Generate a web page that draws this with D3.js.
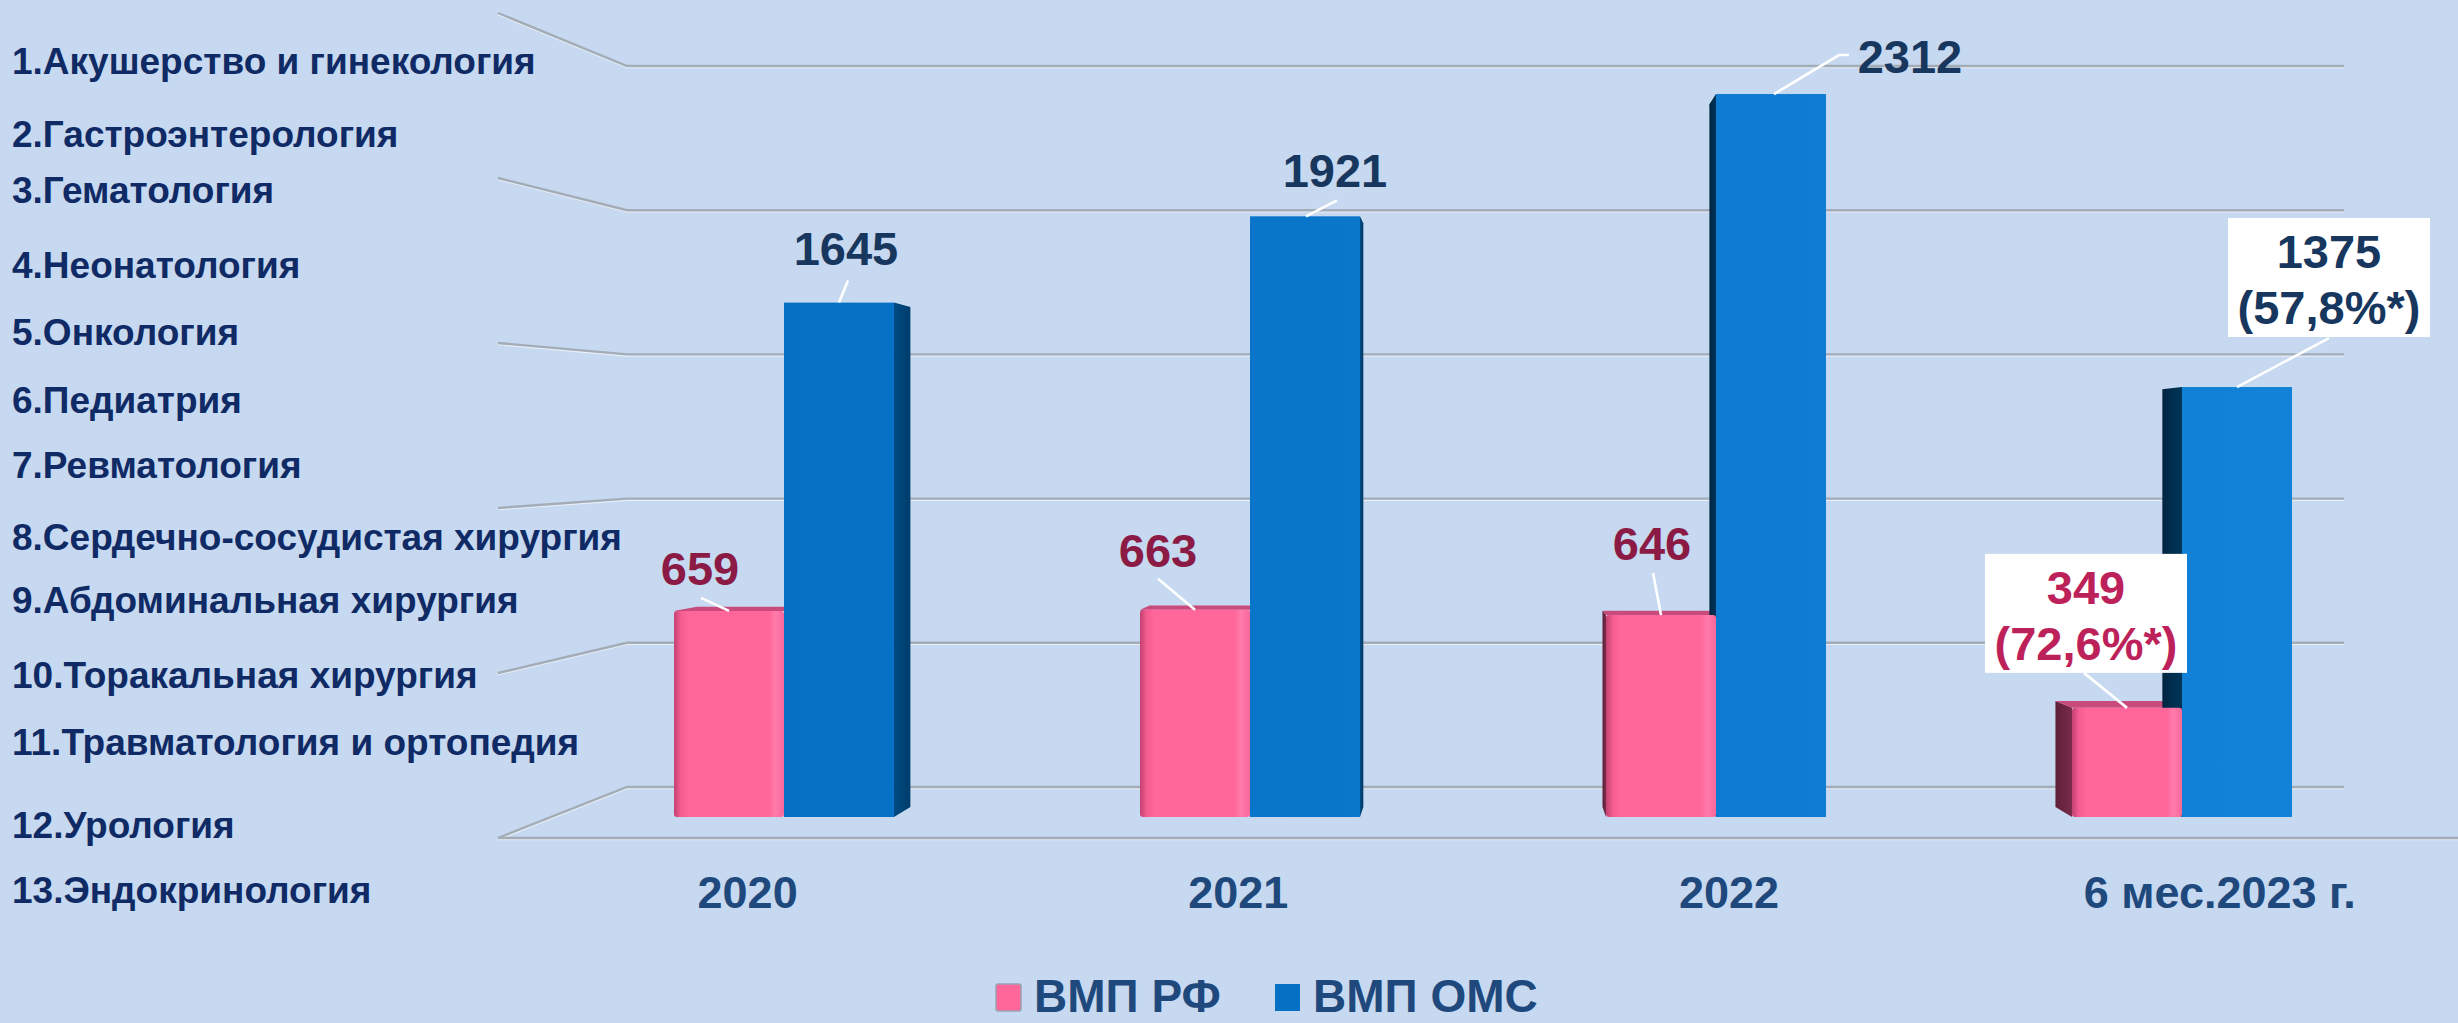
<!DOCTYPE html>
<html>
<head>
<meta charset="utf-8">
<script src="https://cdn.jsdelivr.net/npm/d3@7"></script>
<style>
  html, body { margin: 0; padding: 0; background: #c6d9f0; overflow: hidden; }
  svg { display: block; }
  text { font-family: "Liberation Sans", Arial, sans-serif; font-weight: bold; }
</style>
</head>
<body>
<svg id="chart" width="2458" height="1023"></svg>
<script>
// ---- data ----
const categories = ["2020", "2021", "2022", "6 мес.2023 г."];
const seriesNames = ["ВМП РФ", "ВМП ОМС"];
const vmpRF  = [659, 663, 646, 349];
const vmpOMS = [1645, 1921, 2312, 1375];
const shareRF  = [null, null, null, "72,6%*"];
const shareOMS = [null, null, null, "57,8%*"];
const gridTicks = [0, 500, 1000, 1500, 2000, 2500];
const profiles = [
  "1.Акушерство и гинекология",
  "2.Гастроэнтерология",
  "3.Гематология",
  "4.Неонатология",
  "5.Онкология",
  "6.Педиатрия",
  "7.Ревматология",
  "8.Сердечно-сосудистая хирургия",
  "9.Абдоминальная хирургия",
  "10.Торакальная хирургия",
  "11.Травматология и ортопедия",
  "12.Урология",
  "13.Эндокринология"
];

// ---- layout ----
const W = 2458, H = 1023;
const svg = d3.select("#chart");
const vp = { x: 1480, y: 463 };   // vanishing point of the 3D box
const depth = 0.972;               // back face scale of a bar

const x0 = d3.scaleBand().domain(categories).range([551, 2415])
  .paddingInner(0.528).paddingOuter(0.264);
const x1 = d3.scaleBand().domain(seriesNames).range([0, x0.bandwidth()]);
const yBar  = d3.scaleLinear().domain([0, 2500]).range([817, 35.25]);
const yBack = d3.scaleLinear().domain([0, 2500]).range([787, 66]);
const yWall = d3.scaleLinear().domain([0, 2500]).range([838, 13]);
const backLeft = 627, backRight = 2344, wallFront = 498;

const proj = (x, y, s) => [vp.x + (x - vp.x) * s, vp.y + (y - vp.y) * s];

// ---- gradients ----
const defs = svg.append("defs");
function lin(id, stops, attrs) {
  const g = defs.append("linearGradient").attr("id", id);
  Object.entries(attrs || {}).forEach(([k, v]) => g.attr(k, v));
  stops.forEach(([o, c]) => g.append("stop").attr("offset", o).attr("stop-color", c));
}
lin("pinkFront", [["0%", "#c24070"], ["6%", "#f45c90"], ["13%", "#ff6699"], ["86%", "#ff6699"], ["92%", "#ff7cab"], ["100%", "#f7679a"]]);
lin("blueFront", [["0%", "#0570c4"], ["100%", "#1282d8"]],
  { gradientUnits: "userSpaceOnUse", x1: 780, y1: 0, x2: 2300, y2: 0 });
lin("blueSideR", [["0%", "#004a82"], ["100%", "#003d6c"]]);
lin("blueSideL", [["0%", "#002540"], ["100%", "#00355a"]]);
lin("pinkSide", [["0%", "#5e1f38"], ["100%", "#7a2c4c"]]);

// ---- back wall, side wall and floor ----
const grid = svg.append("g");
function ridge(path) {
  grid.append("path").attr("d", path).attr("fill", "none")
    .attr("stroke", "#e9eff7").attr("stroke-width", 1.4).attr("transform", "translate(0,1.6)");
  grid.append("path").attr("d", path).attr("fill", "none")
    .attr("stroke", "#a4acb7").attr("stroke-width", 2.4);
}
gridTicks.forEach(t => {
  const p = d3.path();
  p.moveTo(wallFront, yWall(t));
  p.lineTo(backLeft, yBack(t));
  p.lineTo(backRight, yBack(t));
  ridge(p.toString());
});
ridge(`M${wallFront},${yWall(0)}L${W},${yWall(0)}`);

// ---- bars ----
const bars = [];
categories.forEach((c, i) => {
  [vmpRF[i], vmpOMS[i]].forEach((v, s) => {
    const xa = x0(c) + x1(seriesNames[s]);
    const xb = xa + x1.bandwidth();
    bars.push({ c, i, s, v, xa, xb, yt: yBar(v), yb: yBar(0) });
  });
});

const faces = svg.append("g");
bars.forEach(b => {
  const mid = (b.xa + b.xb) / 2;
  const edge = mid < vp.x ? b.xb : b.xa;
  const side = [[edge, b.yt], proj(edge, b.yt, depth), proj(edge, b.yb, depth), [edge, b.yb]];
  faces.append("polygon").attr("points", side.map(p => p.join(",")).join(" "))
    .attr("fill", b.s === 0 ? "url(#pinkSide)" : (mid < vp.x ? "url(#blueSideR)" : "url(#blueSideL)"));
  if (b.yt > vp.y) {
    const top = [[b.xa, b.yt], [b.xb, b.yt], proj(b.xb, b.yt, depth), proj(b.xa, b.yt, depth)];
    faces.append("polygon").attr("points", top.map(p => p.join(",")).join(" "))
      .attr("fill", b.s === 0 ? "#c94b7b" : "#0a5fa8");
  }
});

svg.append("g").selectAll("rect").data(bars).join("rect")
  .attr("x", d => d.xa).attr("y", d => d.yt)
  .attr("width", d => d.xb - d.xa).attr("height", d => d.yb - d.yt)
  .attr("rx", d => d.s === 0 ? 3 : 0)
  .attr("fill", d => d.s === 0 ? "url(#pinkFront)" : "url(#blueFront)");

// ---- value labels with leader lines ----
// label anchor (centre, first baseline) and leader path, relative to the bar's top centre
const placement = [
  [ { dx: -29, dy: -26, lead: [[-28, -13], [0, 0]] },
    { dx: -37, dy: -43, lead: [[-37, -31], [0, 0]] },
    { dx: -9,  dy: -55, lead: [[-8, -42], [0, 0]] },
    { dx: -41, dy: -104, lead: [[-43, -35], [0, 0]], box: true } ],
  [ { dx: 7,   dy: -38, lead: [[9, -22], [0, 0]] },
    { dx: 30,  dy: -29, lead: [[32, -16], [1, 0]] },
    { dx: 139, dy: -21, lead: [[78, -39], [68, -39], [3, 0]] },
    { dx: 92,  dy: -119, lead: [[92, -49], [0, 0]], box: true } ]
];
const labelFill = [["#8b1b45", "#8b1b45", "#8b1b45", "#bc2259"], ["#17375e", "#17375e", "#17375e", "#17375e"]];
const shares = [shareRF, shareOMS];

const lab = svg.append("g");
bars.forEach(b => {
  const pl = placement[b.s][b.i];
  const cx = (b.xa + b.xb) / 2, cy = b.yt;
  const lx = cx + pl.dx, ly = cy + pl.dy;
  if (pl.box) {
    lab.append("rect").attr("x", lx - 101).attr("y", ly - 50)
      .attr("width", 202).attr("height", 119).attr("fill", "#ffffff");
  }
  lab.append("path")
    .attr("d", d3.line()(pl.lead.map(([a, c]) => [cx + a, cy + c])))
    .attr("fill", "none").attr("stroke", "#ffffff").attr("stroke-width", 2.6);
  lab.append("text").attr("x", lx).attr("y", ly)
    .attr("text-anchor", "middle").attr("font-size", 47)
    .attr("fill", labelFill[b.s][b.i]).text(b.v);
  const share = shares[b.s][b.i];
  if (share) {
    lab.append("text").attr("x", lx).attr("y", ly + 56)
      .attr("text-anchor", "middle").attr("font-size", 47)
      .attr("fill", labelFill[b.s][b.i]).text(`(${share})`);
  }
});

// ---- category axis (labels sit on the front edge of the floor) ----
const axisX = c => vp.x + (x0(c) + x0.bandwidth() / 2 - vp.x) * 1.053;
const axisScale = d3.scalePoint().domain(categories).range([axisX(categories[0]), axisX(categories[3])]);
const axis = svg.append("g").attr("transform", "translate(0,908)")
  .call(d3.axisBottom(axisScale).tickSize(0).tickPadding(0));
axis.select(".domain").remove();
axis.selectAll("text").attr("dy", 0).attr("y", 0)
  .attr("font-size", 45).attr("fill", "#1f497d")
  .style("font-family", "\"Liberation Sans\", Arial, sans-serif").style("font-weight", "bold");

// ---- profile list ----
const profileBaselines = [74, 147, 203, 278, 345, 413, 478, 550, 613, 688, 755, 838, 903];
svg.append("g").selectAll("text").data(profiles).join("text")
  .attr("x", 12).attr("y", (d, i) => profileBaselines[i])
  .attr("font-size", 37).attr("fill", "#0f2a64").text(d => d);

// ---- legend ----
const legend = svg.append("g");
const legendItems = [
  { name: seriesNames[0], sx: 996, fill: "#ff6699", stroke: "#9aa3b3" },
  { name: seriesNames[1], sx: 1275, fill: "#0570c4", stroke: "none" }
];
legendItems.forEach(it => {
  legend.append("rect").attr("x", it.sx).attr("y", 984).attr("width", 25).attr("height", 27)
    .attr("rx", it.stroke === "none" ? 0 : 2)
    .attr("fill", it.fill).attr("stroke", it.stroke).attr("stroke-width", 1.5);
  legend.append("text").attr("x", it.sx + 38).attr("y", 1012)
    .attr("font-size", 46).attr("fill", "#1f497d").text(it.name);
});
</script>
</body>
</html>
